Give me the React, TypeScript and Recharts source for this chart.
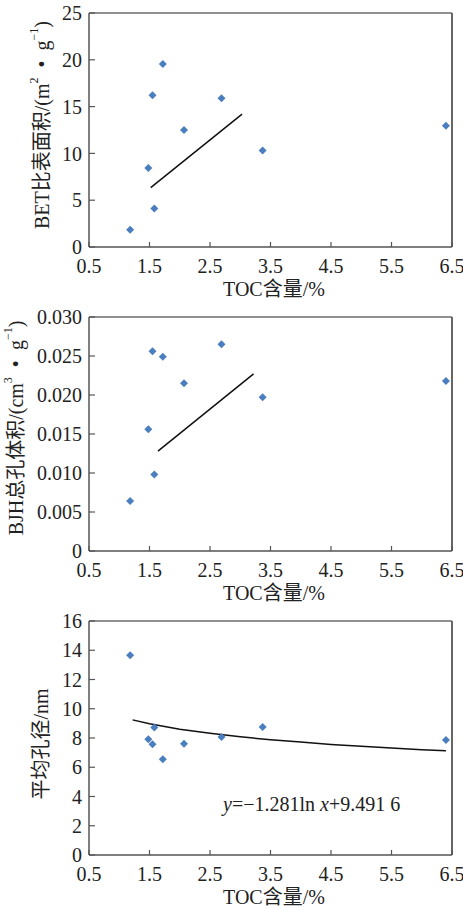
import { ComposedChart, Scatter, XAxis, YAxis, ReferenceLine, Label } from "recharts";

const FONT = "'Liberation Serif', 'Noto Sans CJK SC', serif";
const AXIS = "#555";
const MARK = "#4a7ebf";

// TOC content of the nine samples (%)
const tocContent = [1.18, 1.48, 1.55, 1.58, 1.72, 2.07, 2.69, 3.37, 6.4];
// measured values per sample
const betArea = [1.85, 8.44, 16.2, 4.1, 19.55, 12.5, 15.9, 10.3, 12.96];
const bjhVolume = [0.0064, 0.0156, 0.0256, 0.0098, 0.0249, 0.0215, 0.0265, 0.0197, 0.0218];
const poreSize = [13.65, 7.91, 7.57, 8.71, 6.54, 7.61, 8.07, 8.76, 7.86];

// fitted trend lines
const areaFitX = [1.52, 3.03];
const areaFitY = [6.34, 14.2];
const volumeFitX = [1.64, 3.22];
const volumeFitY = [0.0128, 0.0227];
const poreFitX = [1.22, 1.5, 2, 2.5, 3, 3.5, 4, 4.5, 5, 5.5, 6, 6.4];
const poreFitY = [9.24, 8.97, 8.6, 8.32, 8.08, 7.88, 7.72, 7.56, 7.43, 7.31, 7.2, 7.12];

const xTicks = [0.5, 1.5, 2.5, 3.5, 4.5, 5.5, 6.5];
const areaTicks = [0, 5, 10, 15, 20, 25];
const volumeTicks = [0, 0.005, 0.01, 0.015, 0.02, 0.025, 0.03];
const poreTicks = [0, 2, 4, 6, 8, 10, 12, 14, 16];

const XTick = ({ x, y, payload }: any) => (
  <g>
    <line x1={x} y1={y - 12} x2={x} y2={y - 17} stroke={AXIS} strokeWidth={1.2} />
    <text x={x} y={y} dy="0.71em" textAnchor="middle" fontFamily={FONT} fontSize={20} fill="#222">
      {payload.value}
    </text>
  </g>
);

const makeYTick = (fmt: (v: number) => string) => ({ x, y, payload }: any) => (
  <g>
    <line x1={x + 7} y1={y} x2={x + 13} y2={y} stroke={AXIS} strokeWidth={1.2} />
    <text x={x} y={y} dy="0.36em" textAnchor="end" fontFamily={FONT} fontSize={20} fill="#222">
      {fmt(payload.value)}
    </text>
  </g>
);

const Diamond = ({ cx, cy }: any) => (
  <polygon
    points={`${cx},${cy - 4} ${cx + 4},${cy} ${cx},${cy + 4} ${cx - 4},${cy}`}
    fill={MARK}
  />
);

type Part = { t: string; sup?: boolean };

const YTitle = ({ cx, cy, parts }: { cx: number; cy: number; parts: Part[] }) => {
  let shifted = false;
  return (
    <text
      x={cx}
      y={cy}
      transform={`rotate(-90, ${cx}, ${cy})`}
      textAnchor="middle"
      dominantBaseline="central"
      fontFamily={FONT}
      fontSize={20}
      fill="#222"
      style={{ whiteSpace: "pre" }}
    >
      {parts.map((p, i) => {
        let dy = 0;
        if (p.sup && !shifted) {
          dy = -8;
          shifted = true;
        } else if (!p.sup && shifted) {
          dy = 8;
          shifted = false;
        }
        return (
          <tspan key={i} dy={dy} fontSize={p.sup ? 12 : 20}>
            {p.t}
          </tspan>
        );
      })}
    </text>
  );
};

type PanelProps = {
  top: number;
  ys: number[];
  ticks: number[];
  fitX: number[];
  fitY: number[];
  fmt: (v: number) => string;
  title: Part[];
  titleX: number;
  titleY: number;
  equation?: boolean;
};

function Panel({ top, ys, ticks, fitX, fitY, fmt, title, titleX, titleY, equation }: PanelProps) {
  const points = tocContent.map((x, i) => ({ x, y: ys[i] }));
  const fit = fitX.map((x, i) => ({ x, y: fitY[i] }));
  const yMax = ticks[ticks.length - 1];

  const xLabel = () => (
    <g>
      <text x={274} y={289} textAnchor="middle" dominantBaseline="central" fontFamily={FONT} fontSize={20} fill="#222">
        TOC含量/%
      </text>
      {equation && (
        <text x={223} y={203} fontFamily={FONT} fontSize={20} fill="#222">
          <tspan fontStyle="italic">y</tspan>
          <tspan>=−1.281ln </tspan>
          <tspan fontStyle="italic">x</tspan>
          <tspan>+9.491 6</tspan>
        </text>
      )}
    </g>
  );

  return (
    <div style={{ position: "absolute", left: 0, top, width: 463, height: 304 }}>
      <ComposedChart width={463} height={304} margin={{ top: 13, right: 11, bottom: 0, left: 0 }}>
        <XAxis
          type="number"
          dataKey="x"
          domain={[0.5, 6.5]}
          ticks={xTicks}
          interval={0}
          allowDataOverflow
          height={57}
          tickLine={false}
          tickSize={0}
          tickMargin={12}
          tick={(p: any) => <XTick {...p} />}
          axisLine={{ stroke: AXIS, strokeWidth: 1.5 }}
          label={<Label content={xLabel} />}
        />
        <YAxis
          type="number"
          dataKey="y"
          domain={[0, yMax]}
          ticks={ticks}
          interval={0}
          allowDataOverflow
          width={89}
          tickLine={false}
          tickSize={0}
          tickMargin={7}
          tick={makeYTick(fmt)}
          axisLine={{ stroke: AXIS, strokeWidth: 1.5 }}
          label={<Label content={() => <YTitle cx={titleX} cy={titleY} parts={title} />} />}
        />
        <ReferenceLine y={yMax} stroke="#222" strokeWidth={1} />
        <ReferenceLine x={6.5} stroke="#666" strokeWidth={2} />
        <Scatter
          data={fit}
          line={{ stroke: "#111", strokeWidth: 1.5 }}
          shape={() => <g />}
          isAnimationActive={false}
        />
        <Scatter data={points} fill={MARK} shape={Diamond} isAnimationActive={false} />
      </ComposedChart>
    </div>
  );
}

export default function App() {
  return (
    <div
      style={{
        position: "absolute",
        left: 0,
        top: 0,
        width: 463,
        height: 909,
        overflow: "hidden",
        background: "#fff",
      }}
    >
      <Panel
        top={0}
        ys={betArea}
        ticks={areaTicks}
        fitX={areaFitX}
        fitY={areaFitY}
        fmt={(v) => String(v)}
        title={[{ t: "BET比表面积/(m" }, { t: "2", sup: true }, { t: "  •  g" }, { t: "−1", sup: true }, { t: ")" }]}
        titleX={42}
        titleY={125}
      />
      <Panel
        top={304}
        ys={bjhVolume}
        ticks={volumeTicks}
        fitX={volumeFitX}
        fitY={volumeFitY}
        fmt={(v) => (v === 0 ? "0" : v.toFixed(3))}
        title={[{ t: "BJH总孔体积/(cm" }, { t: "3", sup: true }, { t: "  •  g" }, { t: "−1", sup: true }, { t: ")" }]}
        titleX={16}
        titleY={124}
      />
      <Panel
        top={608}
        ys={poreSize}
        ticks={poreTicks}
        fitX={poreFitX}
        fitY={poreFitY}
        fmt={(v) => String(v)}
        title={[{ t: "平均孔径/nm" }]}
        titleX={41}
        titleY={136}
        equation
      />
    </div>
  );
}
